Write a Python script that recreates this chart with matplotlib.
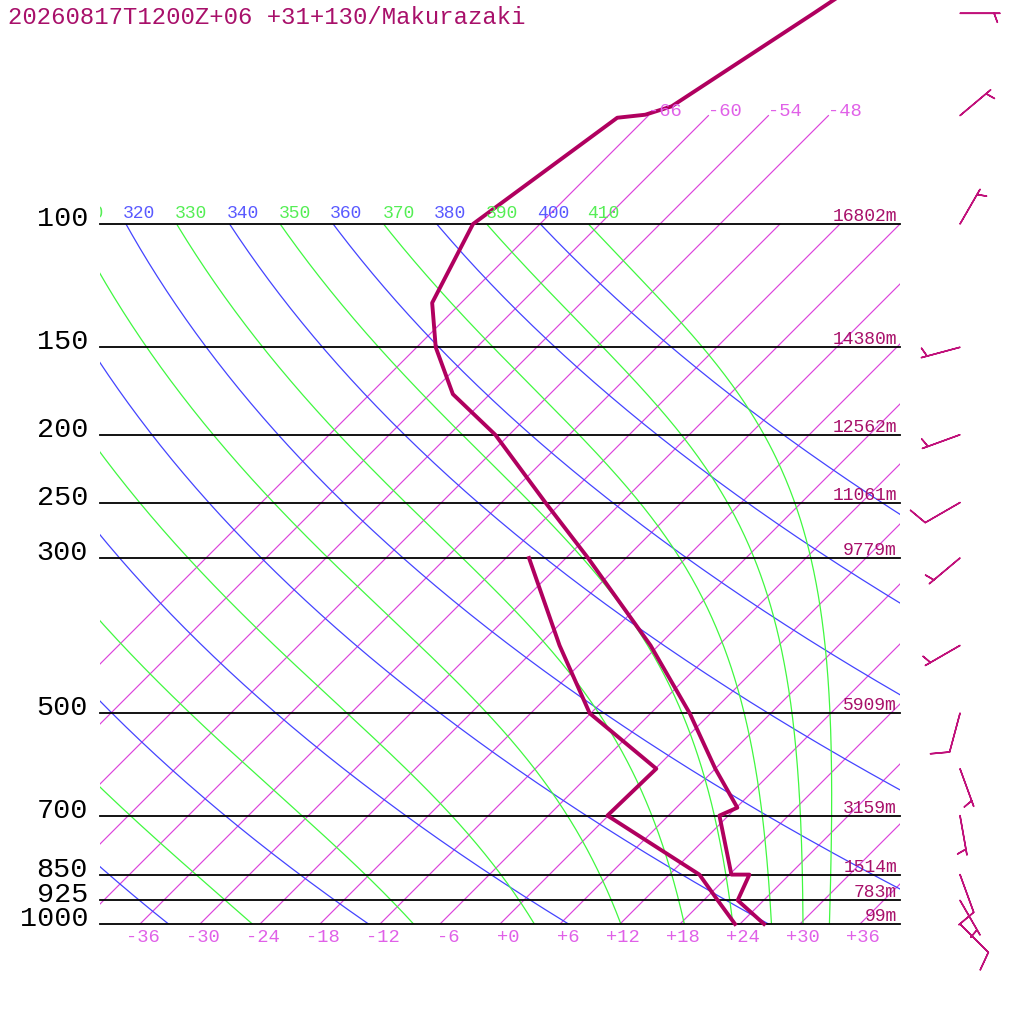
import numpy as np
import matplotlib
matplotlib.use("Agg")
import matplotlib.pyplot as plt
from matplotlib.patches import Rectangle
from matplotlib.transforms import offset_copy

# sounding header
title = "20260817T1200Z+06 +31+130/Makurazaki"

# temperature profile (hPa, degC)
temp_p = [1000, 925, 850, 850, 700, 682, 600, 500, 400, 300, 250, 200, 175, 150,
          129.6, 100, 70.5, 69.8, 67.9, 50, 40]
temp_t = [26.4, 21.4, 20.0, 18.2, 11.1, 12.1, 6.0, -2.1, -12.8, -27.8, -37.6, -49.4,
          -57.7, -64.1, -68.9, -72.7, -68.9, -66.4, -64.6, -59.7, -56.3]

# dewpoint profile (hPa, degC)
dew_p = [1000, 925, 850, 700, 600, 500, 400, 300]
dew_t = [23.5, 19.4, 15.0, -0.1, 0.1, -12.1, -21.9, -33.7]

# standard levels and their heights
levels = [100, 150, 200, 250, 300, 500, 700, 850, 925, 1000]
heights = ["16802m", "14380m", "12562m", "11061m", "9779m", "5909m",
           "3159m", "1514m", "783m", "99m"]

# winds: direction (deg), speed (kt)
wind_p = [50, 70, 100, 150, 200, 250, 300, 400, 500, 600, 700, 850, 925, 1000]
wind_dir = [90, 50, 30, 255, 250, 240, 230, 240, 195, 160, 170, 160, 150, 135]
wind_spd = [5, 5, 5, 5, 5, 10, 5, 5, 10, 5, 5, 10, 5, 10]

# background line sets
isotherms = np.arange(-66, 37, 6)
dry_theta = np.arange(240, 401, 20)
moist_theta = np.arange(250, 411, 20)
tick_temps = np.arange(-36, 37, 6)

# colours
C_PROF = "#b0005f"
C_TEXT = "#a8106a"
C_ISO = "#dc44dc"
C_ISO_TXT = "#e060e8"
C_DRY = "#4444ff"
C_DRY_TXT = "#5a5aff"
C_WET = "#40f840"
C_WET_TXT = "#55ee55"
C_BARB = "#c0107a"
MONO = "Liberation Mono"

SKEW = 30.4      # degC per e-fold of pressure -> 45 degree isotherms
KAPPA = 0.2857


def skx(t, p):
    return np.asarray(t, float) + SKEW * np.log(1000.0 / np.asarray(p, float))


def es(tk):
    return 6.112 * np.exp(17.67 * (tk - 273.15) / (tk - 29.65))


def moist_profile(t0c, plev):
    # pseudo-adiabat integrated upward from 1000 hPa (vectorised over t0c)
    rd, cp, lv, eps = 287.04, 1005.7, 2.501e6, 0.622

    def dtdp(t, p):
        e = es(t)
        rs = eps * e / (p - e)
        return (rd * t + lv * rs) / (cp + lv * lv * rs * eps / (rd * t * t)) / p

    t = np.asarray(t0c, float) + 273.15
    out = [t]
    for p0, p1 in zip(plev[:-1], plev[1:]):
        k1 = dtdp(t, p0)
        k2 = dtdp(t + k1 * (p1 - p0), p1)
        t = t + 0.5 * (k1 + k2) * (p1 - p0)
        out.append(t)
    return np.array(out)


fig = plt.figure(figsize=(10.24, 10.24), dpi=100)
ax = fig.add_axes([0, 0, 1, 1])
ax.set_yscale("log")
ax.set_xlim(-50, 52.4)
ax.set_ylim(1000 * np.exp(100 / 304), 1000 * np.exp(-924 / 304))
ax.axis("off")

box = Rectangle((-40, 100), 80, 900, transform=ax.transData)
box_hi = Rectangle((-40, 60), 80, 940, transform=ax.transData)
box_lbl = Rectangle((-40, 50), 80, 950, transform=ax.transData)


def shifted(dy):
    return offset_copy(ax.transData, fig=fig, x=0, y=dy, units="dots")


def top_label(x, th, color):
    # labels sit just above the 100 hPa line, cut at the left edge of the box
    if x < -44:
        return
    txt = ax.text(x, 100, str(th), color=color, fontsize=13, family=MONO,
                  ha="left", va="baseline", transform=shifted(6), clip_on=True)
    txt.set_clip_path(box_lbl)


# isotherms
for t in isotherms:
    ptop = 70 if t <= -48 else 100
    pp = np.array([1000.0, ptop])
    ln, = ax.plot(skx(t, pp), pp, color=C_ISO, lw=0.85)
    ln.set_clip_path(box_hi)
    if t <= -48:
        ax.text(skx(t, 70), 70, f"{t:d}", color=C_ISO_TXT, fontsize=13.5,
                family=MONO, ha="left", va="baseline")

# dry adiabats
pd_ = np.geomspace(1000, 100, 200)
for th in dry_theta:
    tc = th * (pd_ / 1000) ** KAPPA - 273.15
    ln, = ax.plot(skx(tc, pd_), pd_, color=C_DRY, lw=0.9)
    ln.set_clip_path(box)
    top_label(skx(tc[-1], 100) - 0.3, th, C_DRY_TXT)

# pseudo-adiabats, labelled by their potential temperature aloft
pm = np.geomspace(1000, 10, 700)
t0_grid = np.arange(-45, 45, 0.05)
theta_top = moist_profile(t0_grid, pm)[-1] * (1000 / pm[-1]) ** KAPPA
t0_moist = np.interp(moist_theta, theta_top, t0_grid)
tm = moist_profile(t0_moist, pm) - 273.15
keep = pm >= 100
for i, th in enumerate(moist_theta):
    tc = tm[keep, i]
    ln, = ax.plot(skx(tc, pm[keep]), pm[keep], color=C_WET, lw=0.9)
    ln.set_clip_path(box)
    top_label(skx(tc[-1], 100) - 0.3, th, C_WET_TXT)

# pressure levels
for p, h in zip(levels, heights):
    ax.plot([-40, 40], [p, p], color="black", lw=1.3)
    ax.text(-41.2, p, str(p), fontsize=20.5, family=MONO, color="black",
            ha="right", va="baseline", transform=shifted(-2))
    ax.text(39.7, p, h, fontsize=13, family=MONO, color=C_TEXT,
            ha="right", va="baseline", transform=shifted(3))

# temperature axis labels
for t in tick_temps:
    ax.text(t + 2.0, 1000, f"{t:+d}", fontsize=13.5, family=MONO,
            color=C_ISO_TXT, ha="right", va="center", transform=shifted(-13))

# sounding
ax.plot(skx(temp_t, temp_p), temp_p, color=C_PROF, lw=2.8, clip_on=False)
ax.plot(skx(dew_t, dew_p), dew_p, color=C_PROF, lw=2.8)

# wind barbs
wd = np.radians(wind_dir)
u = -np.array(wind_spd) * np.sin(wd)
v = -np.array(wind_spd) * np.cos(wd)
ax.barbs(np.full(len(wind_p), 46.0), wind_p, u, v, length=7.6, pivot="tip",
         sizes=dict(spacing=0.1, height=0.45, width=0.33),
         color=C_BARB, lw=1.1)

fig.text(8 / 1024, 1 - 24 / 1024, title, fontsize=17.2, family=MONO,
         color=C_TEXT, ha="left", va="baseline")

fig.savefig("out.png", dpi=100, facecolor="white")
